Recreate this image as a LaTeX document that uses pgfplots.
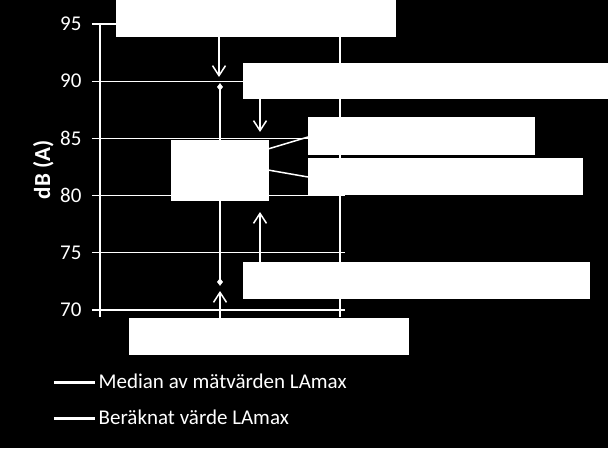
\documentclass[border=0pt]{standalone}
\usepackage{pgfplots}
\pgfplotsset{compat=1.18}
\usepgfplotslibrary{statistics}
\usetikzlibrary{arrows.meta}
\usepackage{fontspec}
\setmainfont{Carlito}

\newcommand{\chartfont}{\fontsize{21}{25}\selectfont}

\begin{document}
\begin{tikzpicture}
\fill[black] (0pt,0pt) rectangle (608pt,448pt);
\path[use as bounding box] (0pt,0pt) rectangle (608pt,448pt);

\begin{axis}[
    at={(92pt,138pt)}, anchor=south west,
    scale only axis, width=253pt, height=286pt,
    xmin=-0.0667, xmax=2.0417, ymin=70, ymax=95,
    xtick={0,2}, xticklabels={}, xtick pos=bottom,
    ytick={70,75,80,85,90,95},
    axis line style={draw=none},
    xmajorgrids, ymajorgrids,
    grid style={white, line width=1.2pt},
    tick align=outside, major tick length=7pt,
    xtick style={white, line width=1.2pt},
    ytick style={draw=none},
    ticklabel style={text=white, font=\chartfont},
    /pgf/number format/assume math mode=true,
    yticklabel style={xshift=0pt},
    ylabel={\textbf{dB (A)}},
    ylabel style={text=white, font=\fontsize{23}{27}\selectfont,
        at={(axis description cs:-0.192,0.49)}, anchor=center},
    legend style={at={(axis description cs:-0.17,-0.21)}, anchor=north west,
        draw=none, fill=none, text=white, font=\chartfont, row sep=16pt,
        cells={anchor=west}},
    legend image code/.code={\draw[#1, line width=3.5pt] (0pt,0pt) -- (41pt,0pt);},
    boxplot/draw direction=y,
]
% box: min, quartiles, max in dB(A)
\addplot+[draw=white, fill=white, solid, line width=1.2pt, mark=none,
    boxplot prepared={draw position=1,
        lower whisker=72.45, lower quartile=79.6, median=82.2,
        upper quartile=84.85, upper whisker=89.5,
        box extend=0.808, whisker extend=0.01}] coordinates {};
\addplot[only marks, mark=diamond*, mark size=3.5pt, white]
    coordinates {(1,89.5) (1,72.45)};

\legend{}
\addlegendimage{white}
\addlegendentry{Median av mätvärden LAmax}
\addlegendimage{white}
\addlegendentry{Beräknat värde LAmax}
\end{axis}

% callout boxes
\fill[white] (116pt,411pt) rectangle (396pt,448pt);
\fill[white] (243pt,349pt) rectangle (608pt,385pt);
\fill[white] (308pt,293pt) rectangle (535pt,331pt);
\fill[white] (308pt,253pt) rectangle (583pt,290pt);
\fill[white] (243pt,149pt) rectangle (590pt,186pt);
\fill[white] (129pt,93pt) rectangle (409pt,130pt);

% arrows and connectors
\begin{scope}[white, line width=1.5pt, -{Straight Barb[length=10pt,width=13pt]}]
\draw (219pt,411pt) -- (219pt,371pt);
\draw (260pt,349pt) -- (260pt,316pt);
\draw (260pt,186pt) -- (260pt,236pt);
\draw (220pt,130pt) -- (220pt,157pt);
\end{scope}
\draw[white, line width=1.5pt] (268pt,299pt) -- (308pt,311pt);
\draw[white, line width=1.5pt] (268pt,278pt) -- (308pt,271pt);
\end{tikzpicture}
\end{document}
